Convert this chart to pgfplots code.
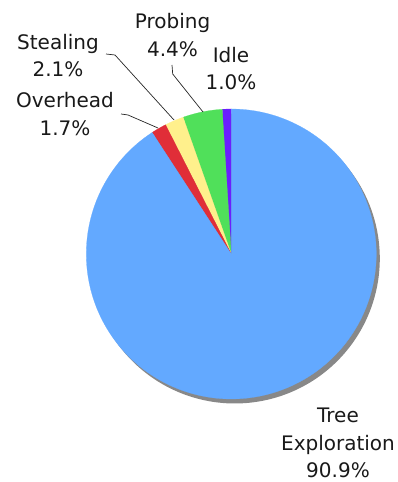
\documentclass[border=0pt]{standalone}
\usepackage{pgfplots}
\pgfplotsset{compat=1.18}
\usepackage{pgfplotstable}
\usepackage{fontspec}
\setmainfont{DejaVu Sans}
\definecolor{cTree}{RGB}{99,169,255}
\definecolor{cOver}{RGB}{224,46,56}
\definecolor{cSteal}{RGB}{255,240,140}
\definecolor{cProbe}{RGB}{80,224,90}
\definecolor{cIdle}{RGB}{106,30,255}
\definecolor{cShadow}{RGB}{136,136,136}
\tikzset{lbl/.style={font=\fontsize{20}{27.5}\selectfont, align=center, text=black!90, inner sep=0pt}}

\pgfplotstableread{
part value
Idle 1.0
Probing 4.4
Stealing 2.1
Overhead 1.7
Tree 90.9
}\piedata

\begin{document}
\begin{tikzpicture}
\pgfplotstablegetelem{0}{value}\of\piedata \let\vA\pgfplotsretval
\pgfplotstablegetelem{1}{value}\of\piedata \let\vB\pgfplotsretval
\pgfplotstablegetelem{2}{value}\of\piedata \let\vC\pgfplotsretval
\pgfplotstablegetelem{3}{value}\of\piedata \let\vD\pgfplotsretval
\pgfplotstablegetelem{4}{value}\of\piedata \let\vE\pgfplotsretval
\pgfmathsetmacro{\tot}{\vA+\vB+\vC+\vD+\vE}
\pgfmathsetmacro{\aA}{90}
\pgfmathsetmacro{\aB}{\aA+360*\vA/\tot}
\pgfmathsetmacro{\aC}{\aB+360*\vB/\tot}
\pgfmathsetmacro{\aD}{\aC+360*\vC/\tot}
\pgfmathsetmacro{\aE}{\aD+360*\vD/\tot}
\pgfmathsetmacro{\aF}{450}
\def\cx{231.3}
\def\cy{228}
\def\r{145}
\begin{axis}[width=397pt,height=482pt,scale only axis,
  xmin=0,xmax=397,ymin=0,ymax=482,hide axis,clip=false]
% shadow
\addplot[fill=cShadow,draw=none,domain=0:360,samples=240,variable=\t]
  ({\cx+3.5+\r*cos(t)},{\cy-4.5+\r*sin(t)}) -- cycle;
% slices
\addplot[fill=cIdle,draw=cIdle,line width=0.2pt,domain=\aA:\aB,samples=10,variable=\t]
  ({\cx+\r*cos(t)},{\cy+\r*sin(t)}) -- (axis cs:\cx,\cy) -- cycle;
\addplot[fill=cProbe,draw=cProbe,line width=0.2pt,domain=\aB:\aC,samples=20,variable=\t]
  ({\cx+\r*cos(t)},{\cy+\r*sin(t)}) -- (axis cs:\cx,\cy) -- cycle;
\addplot[fill=cSteal,draw=cSteal,line width=0.2pt,domain=\aC:\aD,samples=12,variable=\t]
  ({\cx+\r*cos(t)},{\cy+\r*sin(t)}) -- (axis cs:\cx,\cy) -- cycle;
\addplot[fill=cOver,draw=cOver,line width=0.2pt,domain=\aD:\aE,samples=12,variable=\t]
  ({\cx+\r*cos(t)},{\cy+\r*sin(t)}) -- (axis cs:\cx,\cy) -- cycle;
\addplot[fill=cTree,draw=cTree,line width=0.2pt,domain=\aE:\aF,samples=240,variable=\t]
  ({\cx+\r*cos(t)},{\cy+\r*sin(t)}) -- (axis cs:\cx,\cy) -- cycle;
% leader lines
\draw[black!85,line width=0.7pt] (axis cs:172,417) -- (axis cs:172.7,408) -- (axis cs:203,370);
\draw[black!85,line width=0.7pt] (axis cs:106,428) -- (axis cs:115,427) -- (axis cs:174,362);
\draw[black!85,line width=0.7pt] (axis cs:121,368) -- (axis cs:128,367) -- (axis cs:158,354);
% labels
\node[lbl] at (axis cs:172.5,447) {Probing\\4.4\%};
\node[lbl] at (axis cs:231,413.5) {Idle\\1.0\%};
\node[lbl] at (axis cs:58,426.5) {Stealing\\2.1\%};
\node[lbl] at (axis cs:65,368) {Overhead\\1.7\%};
\node[lbl] at (axis cs:338,39) {Tree\\Exploration\\90.9\%};
\end{axis}
\pgfresetboundingbox
\path (current axis.south west) rectangle (current axis.north east);
\end{tikzpicture}
\end{document}
